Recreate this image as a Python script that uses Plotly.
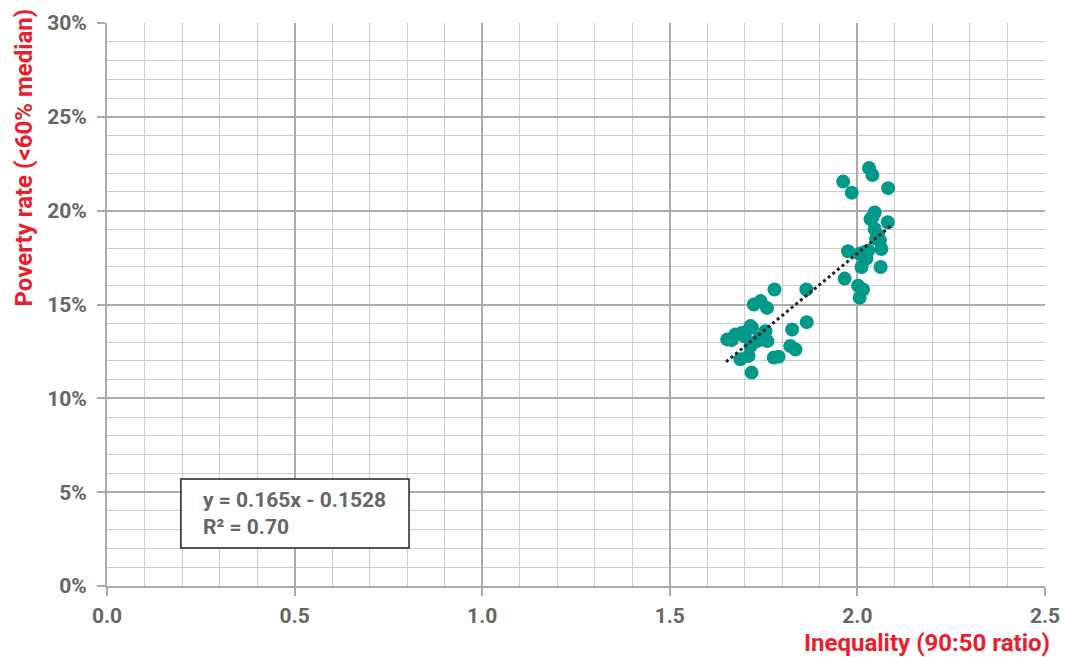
import plotly.graph_objects as go

# Inequality (90:50 ratio) and poverty rate (<60% median) per observation
inequality = [
    1.653, 1.675, 1.693, 1.719, 1.715, 1.755, 1.760, 1.733, 1.715, 1.688,
    1.710, 1.718, 1.724, 1.742, 1.759, 1.779, 1.777, 1.790, 1.826, 1.821,
    1.835, 1.865, 1.864, 1.665, 1.700, 1.740,
    2.031, 2.040, 1.962, 1.985, 2.082, 2.046, 2.035, 2.040, 2.081, 2.046,
    2.055, 2.060, 2.064, 2.029, 1.975, 2.006, 2.024, 2.011, 2.062, 1.966,
    2.002, 2.015, 2.006, 2.050, 2.020,
]
poverty = [
    0.1314, 0.1340, 0.1350, 0.1376, 0.1385, 0.1358, 0.1305, 0.1305, 0.1279, 0.1208,
    0.1226, 0.1137, 0.1500, 0.1518, 0.1482, 0.1580, 0.1217, 0.1222, 0.1367, 0.1279,
    0.1260, 0.1406, 0.1580, 0.1310, 0.1330, 0.1320,
    0.2227, 0.2190, 0.2155, 0.2096, 0.2120, 0.1990, 0.1955, 0.1965, 0.1938, 0.1902,
    0.1868, 0.1841, 0.1796, 0.1788, 0.1784, 0.1770, 0.1745, 0.1700, 0.1700, 0.1638,
    0.1600, 0.1580, 0.1536, 0.1850, 0.1780,
]

# Linear trend as reported on the chart
trend_slope = 0.165
trend_intercept = -0.1528
trend_x = [1.65, 2.09]

x_ticks = [0.0, 0.5, 1.0, 1.5, 2.0, 2.5]
y_ticks = [0.0, 0.05, 0.10, 0.15, 0.20, 0.25, 0.30]

TEAL = "#00998A"
RED = "#E8202E"
GREY_TEXT = "#666666"
MAJOR_GRID = "#ababab"
MINOR_GRID = "#cdcdcd"

fig = go.Figure()

fig.add_trace(go.Scatter(
    x=inequality, y=poverty,
    mode="markers",
    marker=dict(color=TEAL, size=14, line=dict(width=0)),
    showlegend=False,
))

fig.add_trace(go.Scatter(
    x=trend_x,
    y=[trend_slope * v + trend_intercept for v in trend_x],
    mode="lines",
    line=dict(color="#222222", width=3, dash="dot"),
    showlegend=False,
))

tick_font = dict(family="Roboto", size=21, color=GREY_TEXT, weight="bold")

axis_common = dict(
    tickfont=tick_font,
    showgrid=True, gridcolor=MAJOR_GRID, gridwidth=2,
    showline=True, linecolor=MAJOR_GRID, linewidth=2,
    ticks="outside", ticklen=8, tickcolor=MAJOR_GRID, tickwidth=2,
    zeroline=False,
)

fig.update_layout(
    width=1065, height=657,
    paper_bgcolor="white",
    plot_bgcolor="white",
    margin=dict(l=107, r=20, t=23, b=71, autoexpand=False),
    xaxis=dict(
        range=[0, 2.5],
        tickvals=x_ticks,
        tickformat=".1f",
        minor=dict(dtick=0.1, showgrid=True, gridcolor=MINOR_GRID, gridwidth=1),
        ticklabelstandoff=2,
        **axis_common,
    ),
    yaxis=dict(
        range=[0, 0.30],
        tickvals=y_ticks,
        tickformat=".0%",
        minor=dict(dtick=0.01, showgrid=True, gridcolor=MINOR_GRID, gridwidth=1),
        ticklabelstandoff=6,
        **axis_common,
    ),
)

title_font = dict(family="Roboto", size=24, color=RED, weight="bold")

fig.add_annotation(
    text="Poverty rate (<60% median)",
    xref="paper", yref="paper",
    x=-0.088, y=0.762, xanchor="center", yanchor="middle",
    textangle=-90, showarrow=False, font=title_font,
)
fig.add_annotation(
    text="Inequality (90:50 ratio)",
    xref="paper", yref="paper",
    x=1.0075, y=-0.101, xanchor="right", yanchor="middle",
    showarrow=False, font=title_font,
)

# Trend equation box
fig.add_shape(
    type="rect", xref="x", yref="y",
    x0=0.197, x1=0.805, y0=0.0202, y1=0.057,
    line=dict(color="#222222", width=1.5),
    fillcolor="white", layer="above",
)
fig.add_annotation(
    text="y = 0.165x - 0.1528<br>R² = 0.70",
    xref="x", yref="y",
    x=0.25, y=0.0386, xanchor="left", yanchor="middle",
    align="left", showarrow=False,
    font=dict(family="Roboto", size=21, color=GREY_TEXT, weight="bold"),
)

# drop the page's default body margin so the fixed-size figure fills the window
fig.write_html(
    "out.html",
    config={"displayModeBar": False},
    post_script="document.body.style.margin='0';",
)
